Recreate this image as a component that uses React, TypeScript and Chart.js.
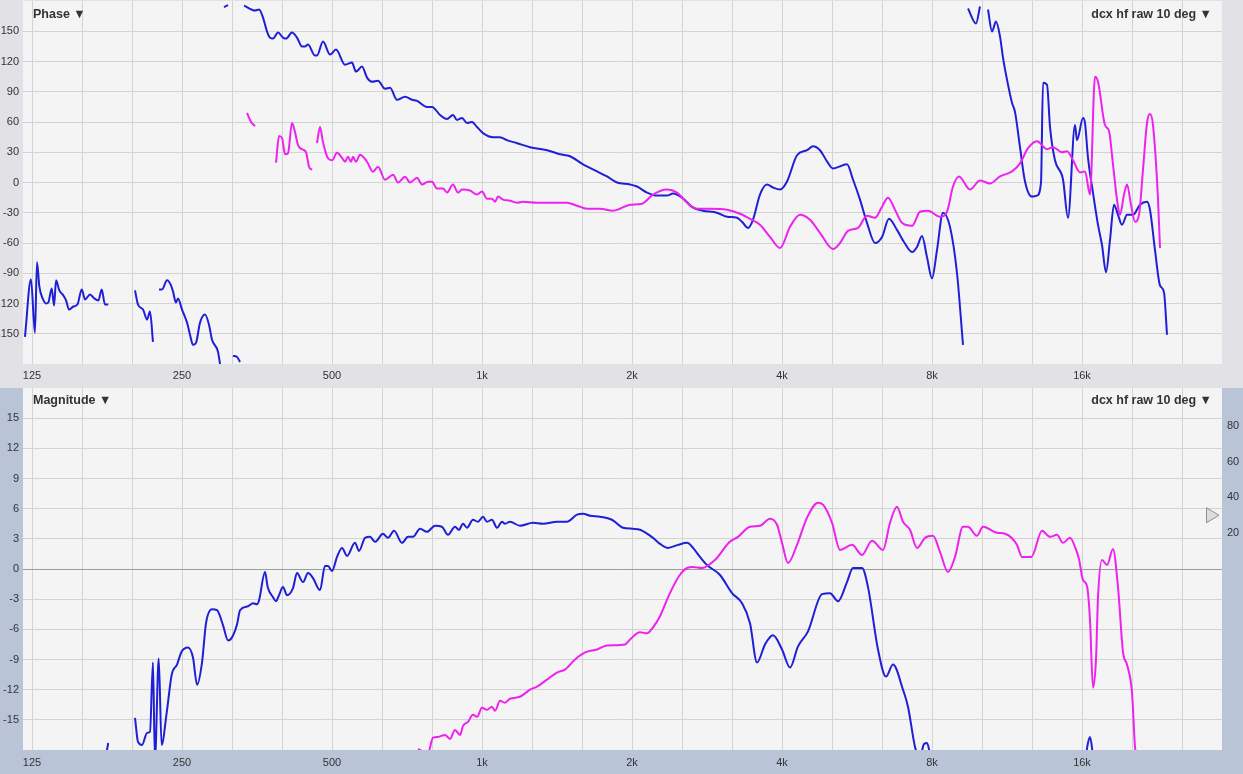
import React, { useEffect, useRef } from "react";
import { Chart, registerables } from "chart.js";
Chart.register(...registerables);

type Pt = [number, number | null];

const X_MIN = 119.9;
const X_MAX = 30555;
const OCTAVE_HZ = [125, 250, 500, 1000, 2000, 4000, 8000, 16000];
const OCTAVE_LABELS = ["125", "250", "500", "1k", "2k", "4k", "8k", "16k"];
const PHASE_TICKS = [-150, -120, -90, -60, -30, 0, 30, 60, 90, 120, 150];
const MAG_TICKS = [-15, -12, -9, -6, -3, 0, 3, 6, 9, 12, 15];
const MAG_RIGHT_TICKS = [20, 40, 60, 80];
const PHASE_RANGE = [-180, 180];
const MAG_RANGE = [-18, 18];
const MAG_RIGHT_RANGE = [-101, 101];
const MARKER_LEVEL = 30;

// Phase (deg), blue trace
const phaseBlue: Pt[] = [
  [121, -153], [124.4, -96], [126.7, -149], [127.9, -79], [129.3, -103], [131.3, -115], [133.4, -120], [134.8, -119],
  [136.9, -105], [138.4, -122], [139.7, -97], [141.8, -107], [144.5, -112], [146.3, -117], [148.3, -126], [151.3, -123],
  [154.2, -121], [157.3, -106], [159.7, -116], [163.4, -111], [166.7, -115], [169.9, -117], [172.5, -106], [175.1, -121], [177.8, -121],
  [180, null],
  [201.2, -107], [204, -121], [208.8, -126], [212.7, -136], [215.6, -128], [218.6, -158],
  [221, null],
  [224.8, -106], [227.9, -106], [233.3, -97], [237.6, -102], [239.8, -108], [243.1, -119], [245.4, -115], [250, -126],
  [255.9, -139], [259.4, -151], [263, -161], [266.7, -159], [271.7, -139], [278, -131], [283.2, -141], [287.2, -156],
  [295.3, -168], [298, -180],
  [300, null],
  [303.5, 174], [309.2, 176],
  [312, null],
  [316.4, -172], [322.4, -173], [326.9, -178],
  [330, null],
  [333, 175.5], [350.3, 170.6], [356.9, 171.6], [363.5, 163.6], [370.3, 149.7], [375.4, 143.7], [380.7, 142.7], [389.6, 148.7],
  [398.7, 143.7], [404.3, 142.7], [415.6, 148.7], [425.3, 143.7], [435.3, 134.8], [441.3, 134.8], [447.5, 136.8], [462.2, 125.9],
  [466.5, 125.9], [479.6, 139.8], [495.5, 126.9], [509.3, 131.8], [530.9, 116.9], [548.4, 118.9], [558.6, 110], [574.4, 115],
  [587.8, 104], [601.6, 100], [618.4, 101], [638.9, 93], [653.7, 94], [675.2, 82], [700.6, 85], [723.7, 82], [740.6, 81],
  [775.6, 75], [793.7, 75], [823.6, 67], [850.7, 63], [874.6, 67], [890.9, 62], [911.7, 64], [933, 59], [954.9, 60], [977.2, 55],
  [1004.6, 49], [1052, 45], [1086.7, 45], [1122.5, 42], [1175.6, 39], [1248.5, 35], [1350.3, 32], [1434, 28], [1501.8, 26],
  [1594.8, 18], [1701.3, 11], [1781.8, 6], [1866, 0], [1982, -2], [2046.8, -4], [2143.6, -10], [2245, -13], [2351, -13],
  [2417.4, -11], [2520, -15], [2651.6, -25], [2776.6, -28], [2962, -30], [3102, -34], [3249, -35], [3325, -39], [3418, -45],
  [3498, -37], [3613, -12], [3732, -2], [3837, -5], [3964, -7], [4094, 1], [4287, 27], [4490, 32], [4616, 36], [4768, 32],
  [4924, 21], [5063, 14], [5401, 18], [5553, 3], [5736, -17], [5924, -40], [6148, -60], [6350, -54], [6558, -36], [6805, -47],
  [7029, -59], [7294, -69], [7464, -64], [7639, -53], [7817, -74], [8000, -95], [8187, -67], [8417, -30], [8694, -44],
  [8980, -90], [9232, -161],
  [9300, null],
  [9448, 172.6], [9804, 157.7], [9986, 174.5],
  [10200, null],
  [10363, 171.6], [10556, 149.7], [10753, 159.6], [10954, 144.7], [11106, 123.9], [11314, 102], [11578, 79], [11739, 70],
  [12014, 35], [12295, 1], [12699, -14], [12996, -13], [13239, 0], [13362, 99], [13610, 97], [13802, 55], [14122, 22],
  [14655, 3], [14998, -35], [15490, 57], [15634, 42], [16074, 64], [16223, 59], [16447, 25], [16832, -10], [17229, -42],
  [17549, -62], [17877, -89], [18211, -57], [18550, -22], [18896, -32], [19250, -42], [19698, -32], [20251, -32],
  [20918, -22], [21605, -19], [21907, -27], [22419, -67], [22943, -102], [23371, -109], [23698, -151],
];

// Phase (deg), magenta trace
const phaseMagenta: Pt[] = [
  [337.6, 69], [343.9, 60], [350.3, 56],
  [360, null],
  [386, 19.6], [391.4, 46], [397, 44], [402.4, 28], [408, 29], [415.6, 59], [421.4, 50], [427.3, 37], [435.3, 33],
  [443.4, 30], [449.6, 15.6], [455.9, 12.6],
  [460, null],
  [466.5, 39], [473, 55], [479.6, 40], [490.8, 24], [500, 22], [511.7, 29.5], [523.7, 24.5], [530.9, 20.6], [538.4, 25.5],
  [546, 20.6], [551, 25.5], [558.6, 20.6], [569.1, 27.5], [587.8, 20.6], [604.4, 10.6], [618.4, 15.6], [638.9, 2.7],
  [662.9, 7.6], [678.3, 0], [700.6, 5.7], [717, 0], [740.6, 4.7], [757.9, -2], [779, 0.7], [793.7, 0.7], [812, -6],
  [835, -6], [850.7, -10], [874.6, -2], [895, -10], [911.7, -7], [946, -8], [977.2, -12], [1000, -9], [1023, -16],
  [1047, -16], [1062, -19], [1077, -14], [1102, -17], [1138, -18], [1176, -20], [1209, -19], [1289, -20], [1369, -20],
  [1481, -20], [1551, -23], [1625, -26], [1725, -26], [1832, -28], [1892, -26], [1982, -22], [2095, -21], [2204, -12],
  [2351, -7], [2462, -10], [2579, -20], [2701, -26], [2868, -26], [3102, -27], [3294, -31], [3450, -36], [3613, -42],
  [3784, -54], [3964, -65], [4151, -44], [4347, -32], [4553, -37], [4768, -50], [5063, -66], [5230, -60], [5426, -48],
  [5683, -45], [5924, -33], [6148, -35], [6350, -24], [6528, -15], [6742, -27], [6964, -40], [7294, -43], [7568, -29],
  [7853, -28], [8301, -34], [8574, -29], [8815, -4], [9063, 6], [9536, -7], [9986, 2], [10459, -1], [10954, 6],
  [11578, 11], [12014, 19], [12466, 34], [12996, 41], [13610, 33], [13993, 35], [14587, 30], [14929, 31], [15350, 22],
  [15853, 10], [16223, 11], [16603, -12], [16990, 105], [17229, 100], [17794, 57], [18127, 51], [18464, 18], [18810, -17],
  [19073, -32], [19428, -12], [19698, -2], [20066, -22], [20443, -39], [20823, -32], [21213, 13], [21605, 59], [21907, 68],
  [22213, 57], [22731, -16], [22943, -65],
];

// Magnitude (dB), blue trace
const magBlue: Pt[] = [
  [175.5, -18.8], [177.8, -17.3],
  [180, null],
  [201.2, -14.8], [204, -17.2], [207.8, -17.5], [212.7, -16.3], [215.6, -16.2], [218.6, -9.3], [220.6, -19], [224.5, -8.9],
  [227.5, -17.5], [232.9, -14.3], [238.4, -10.5], [244.3, -9.5], [249.6, -8.2], [257, -7.8], [263, -8.8], [268, -11.5],
  [274.2, -9.3], [279.3, -5.4], [287.2, -4], [293.9, -4.1], [302.2, -5.6], [309.2, -7.1], [315, -6.8], [322.4, -5.5],
  [326.9, -4.1], [339.2, -3.7], [347.1, -3.4], [353.6, -3.5], [356.9, -3.1], [366.9, -0.3], [371.4, -1.8], [380.7, -2.8],
  [386, -3.2], [391.4, -2.6], [398.7, -1.8], [406.1, -2.6], [417.5, -1.9], [425.3, -0.4], [437.3, -1.3], [447.5, -0.4],
  [458, -0.9], [473, -2.1], [484, 0.3], [490.8, 0.3], [500, -0.2], [511.7, 1.2], [523.7, 2.1], [535.9, 1.3], [556, 2.6],
  [566.5, 1.8], [582.4, 3.1], [596, 3.2], [610, 2.7], [632.8, 3.5], [647.7, 3.1], [666, 3.8], [691, 2.6], [710.4, 3.2],
  [727, 3.2], [751, 4], [775.6, 3.7], [804.9, 4.3], [831, 4.2], [854.6, 3.4], [882.6, 4.2], [899, 3.9], [916, 4.5],
  [933, 4.1], [959, 4.9], [981.6, 4.7], [1004.6, 5.2], [1023.4, 4.7], [1047, 4.9], [1071.8, 4.1], [1096.8, 4.7],
  [1112, 4.5], [1138, 4.7], [1192, 4.3], [1265.7, 4.6], [1325.8, 4.5], [1414, 4.7], [1481, 4.7], [1551, 5.4], [1595, 5.5],
  [1647, 5.3], [1725, 5.2], [1823, 4.9], [1918.5, 4.1], [2009, 4], [2075.5, 3.9], [2204, 3.1], [2276.5, 2.5], [2362, 2.1],
  [2473.4, 2.4], [2579, 2.6], [2651.6, 2.1], [2738, 1.2], [2828, 0.4], [3003.6, -0.6], [3175, -2.4], [3325, -3.4],
  [3450, -5.4], [3563.6, -9.3], [3698, -7.5], [3837, -6.6], [4000, -8], [4151, -9.8], [4307, -7.7], [4511, -6.2],
  [4812, -2.5], [4993, -2.4], [5182, -3.2], [5401, -1.3], [5553, 0.1], [5789, 0.1], [5952, -1.8], [6233, -8],
  [6468, -10.7], [6681, -9.5], [6996, -12], [7160, -13.7], [7396, -17.7], [7499, -18.5],
  [7550, null],
  [7604, -18.5], [7712, -17.4], [7817, -17.3], [7938, -18.5],
  [8000, null],
  [16299, -18.5], [16447, -17.3], [16603, -16.7], [16832, -18.5],
];

// Magnitude (dB), magenta trace
const magMagenta: Pt[] = [
  [744, -17.9], [779, -18.3], [797, -16.8], [816, -16.7], [842.8, -16.5], [862.6, -16.9], [882.6, -16], [903.3, -16.5],
  [916, -15.6], [937.4, -15.2], [959, -14.5], [977.2, -14.7], [1000, -13.8], [1023.4, -14], [1047, -13.7], [1062, -14.1],
  [1086.7, -13.1], [1112, -13.3], [1138, -12.9], [1192, -12.7], [1248.5, -12], [1289.4, -11.7], [1350, -11], [1414, -10.3],
  [1467, -10], [1537, -9], [1610, -8.3], [1701, -8], [1782, -7.6], [1936, -7.5], [1982, -7], [2075.5, -6.3], [2143.6, -6.4],
  [2204, -5.8], [2276, -4.7], [2373, -2.6], [2486, -0.7], [2579, 0.1], [2652, 0.2], [2764, 0.1], [2935, 0.9], [3142, 2.7],
  [3264, 3.2], [3450, 4.2], [3613, 4.3], [3784, 5], [3909, 4.4], [4000, 2.6], [4112, 0.6], [4287, 2.4], [4490, 5.1],
  [4724, 6.6], [4835, 6.4], [5040, 4.6], [5230, 1.9], [5528, 2.4], [5789, 1.4], [6063, 2.8], [6379, 1.9], [6589, 4.6],
  [6805, 6.2], [6996, 4.7], [7226, 3.9], [7464, 2.1], [7745, 3.1], [8037, 3.3], [8301, 1.7], [8614, -0.3], [8897, 1.2],
  [9232, 4.2], [9448, 4.2], [9842, 3.3], [10126, 4.2], [10802, 3.6], [11210, 3.5], [11849, 2.4], [12126, 1.2], [12663, 1.2],
  [13300, 3.8], [13802, 3.2], [14254, 3.4], [14655, 2.6], [15136, 3.1], [15490, 2.2], [15779, 1], [16074, -1.1],
  [16374, -1.7], [16603, -5.1], [16832, -11.8], [17069, -9], [17229, -2.8], [17549, 0.9], [17961, 0.4], [18464, 2],
  [18896, -1.8], [19340, -8.3], [19698, -9.5], [20160, -12.3], [20443, -17.7], [20630, -18.7],
];

const BLUE = "#1f1fd6";
const MAGENTA = "#ee22ee";
const PLOT_BG = "#f4f4f4";
const PHASE_GUTTER = "#e1e1e6";
const MAG_GUTTER = "#b9c5d7";
const GRID = "#d3d3d3";
const ZERO_LINE = "#9c9c9c";
const TEXT = "#333333";
const FONT = '"Liberation Sans", Arial, Helvetica, sans-serif';

const GRID_HZ = OCTAVE_HZ.flatMap((f) => [f, f * Math.pow(2, 1 / 3), f * Math.pow(2, 2 / 3)]).filter(
  (f) => f >= X_MIN && f <= X_MAX
);

function octaveLabel(v: number): string {
  const i = OCTAVE_HZ.findIndex((f) => Math.abs(f - v) / f < 1e-6);
  return i >= 0 ? OCTAVE_LABELS[i] : "";
}

function zeroPad(s: any) {
  s.paddingLeft = 0;
  s.paddingRight = 0;
  s.paddingTop = 0;
  s.paddingBottom = 0;
}

function xAxis(labelPad: number) {
  return {
    type: "logarithmic",
    min: X_MIN,
    max: X_MAX,
    grid: { color: GRID, lineWidth: 1, drawTicks: false },
    border: { display: false },
    ticks: {
      autoSkip: false,
      maxRotation: 0,
      minRotation: 0,
      padding: labelPad,
      color: TEXT,
      font: { family: FONT, size: 11 },
      callback: (v: any) => octaveLabel(Number(v)),
    },
    afterBuildTicks: (s: any) => {
      s.ticks = GRID_HZ.map((v) => ({ value: v }));
    },
    afterFit: (s: any) => {
      s.height = 24;
      zeroPad(s);
    },
  };
}

function yAxis(range: number[], ticks: number[], zeroDark: boolean) {
  return {
    type: "linear",
    position: "left",
    min: range[0],
    max: range[1],
    grid: {
      drawTicks: false,
      lineWidth: 1,
      color: (c: any) => (zeroDark && c.tick && c.tick.value === 0 ? ZERO_LINE : GRID),
    },
    border: { display: false },
    ticks: { padding: 4, color: TEXT, font: { family: FONT, size: 11 } },
    afterBuildTicks: (s: any) => {
      s.ticks = ticks.map((v) => ({ value: v }));
    },
    afterFit: (s: any) => {
      s.width = 23;
      zeroPad(s);
    },
  };
}

function toData(series: Pt[]) {
  return series.map(([x, y]) => ({ x, y }));
}

function lineSet(series: Pt[], color: string, yAxisID = "y") {
  return {
    data: toData(series),
    borderColor: color,
    borderWidth: 2,
    pointRadius: 0,
    pointHoverRadius: 0,
    fill: false,
    spanGaps: false,
    cubicInterpolationMode: "monotone",
    yAxisID,
  };
}

function bgPlugin(gutter: string) {
  return {
    id: "bg",
    beforeDraw(chart: any) {
      const { ctx, width, height, chartArea: a } = chart;
      ctx.save();
      ctx.fillStyle = gutter;
      ctx.fillRect(0, 0, width, height);
      ctx.fillStyle = PLOT_BG;
      ctx.fillRect(a.left, a.top, a.right - a.left, a.bottom - a.top);
      ctx.restore();
    },
  };
}

const markerPlugin = {
  id: "marker",
  afterDraw(chart: any) {
    const { ctx, chartArea: a } = chart;
    const y = chart.scales.y2.getPixelForValue(MARKER_LEVEL);
    ctx.save();
    ctx.beginPath();
    ctx.moveTo(a.right - 15.5, y - 7.5);
    ctx.lineTo(a.right - 3, y);
    ctx.lineTo(a.right - 15.5, y + 7.5);
    ctx.closePath();
    ctx.fillStyle = "#dcdcdc";
    ctx.fill();
    ctx.strokeStyle = "#8e8e8e";
    ctx.lineWidth = 1;
    ctx.stroke();
    ctx.restore();
  },
};

const common = {
  responsive: false,
  animation: false,
  events: [],
  plugins: { legend: { display: false }, tooltip: { enabled: false } },
};

const titleBase: React.CSSProperties = {
  position: "absolute",
  fontFamily: FONT,
  fontWeight: "bold",
  fontSize: 12.5,
  lineHeight: "12.5px",
  color: TEXT,
  whiteSpace: "nowrap",
};

export default function App() {
  const phaseRef = useRef<HTMLCanvasElement>(null);
  const magRef = useRef<HTMLCanvasElement>(null);

  useEffect(() => {
    const phase = new Chart(phaseRef.current as HTMLCanvasElement, {
      type: "line",
      data: {
        datasets: [lineSet(phaseMagenta, MAGENTA), lineSet(phaseBlue, BLUE)] as any,
      },
      options: {
        ...common,
        layout: { padding: { top: 1, right: 21, left: 0, bottom: 0 } },
        scales: {
          x: xAxis(5) as any,
          y: yAxis(PHASE_RANGE, PHASE_TICKS, false) as any,
        },
      } as any,
      plugins: [bgPlugin(PHASE_GUTTER)],
    });

    const mag = new Chart(magRef.current as HTMLCanvasElement, {
      type: "line",
      data: {
        datasets: [lineSet(magMagenta, MAGENTA), lineSet(magBlue, BLUE)] as any,
      },
      options: {
        ...common,
        layout: { padding: 0 },
        scales: {
          x: xAxis(6) as any,
          y: yAxis(MAG_RANGE, MAG_TICKS, true) as any,
          y2: {
            type: "linear",
            position: "right",
            min: MAG_RIGHT_RANGE[0],
            max: MAG_RIGHT_RANGE[1],
            grid: { display: false, drawTicks: false },
            border: { display: false },
            ticks: { padding: 5, color: TEXT, font: { family: FONT, size: 11 } },
            afterBuildTicks: (s: any) => {
              s.ticks = MAG_RIGHT_TICKS.map((v) => ({ value: v }));
            },
            afterFit: (s: any) => {
              s.width = 21;
              zeroPad(s);
            },
          } as any,
        },
      } as any,
      plugins: [bgPlugin(MAG_GUTTER), markerPlugin],
    });

    return () => {
      phase.destroy();
      mag.destroy();
    };
  }, []);

  return (
    <div
      style={{
        position: "fixed",
        left: 0,
        top: 0,
        width: 1243,
        height: 774,
        overflow: "hidden",
        background: MAG_GUTTER,
      }}
    >
      <canvas
        ref={phaseRef}
        width={1243}
        height={388}
        style={{ position: "absolute", left: 0, top: 0, width: 1243, height: 388 }}
      />
      <canvas
        ref={magRef}
        width={1243}
        height={386}
        style={{ position: "absolute", left: 0, top: 388, width: 1243, height: 386 }}
      />
      <div style={{ ...titleBase, left: 33, top: 7.5 }}>Phase ▼</div>
      <div style={{ ...titleBase, right: 31, top: 7.5 }}>dcx hf raw 10 deg ▼</div>
      <div style={{ ...titleBase, left: 33, top: 394 }}>Magnitude ▼</div>
      <div style={{ ...titleBase, right: 31, top: 394 }}>dcx hf raw 10 deg ▼</div>
    </div>
  );
}
